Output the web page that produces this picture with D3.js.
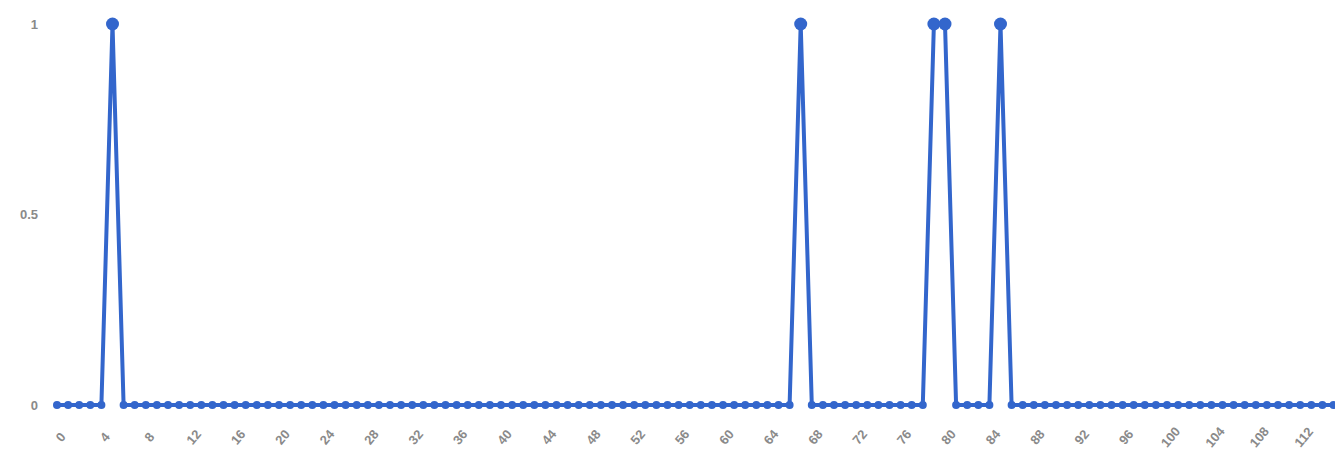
<!DOCTYPE html>
<html>
<head>
<meta charset="utf-8">
<script src="https://cdn.jsdelivr.net/npm/d3@7"></script>
<style>
  html, body { margin: 0; padding: 0; background: #ffffff; }
  svg { display: block; }
</style>
</head>
<body>
<div id="chart"></div>
<script>
// ---- Data ----
const pointCount = 116;                 // x indices 0..115
const peakIndices = [5, 67, 79, 80, 85]; // indices where value = 1
const xValues = d3.range(pointCount);
const yValues = xValues.map(i => peakIndices.includes(i) ? 1 : 0);
const xTickValues = d3.range(0, 113, 4);   // 0,4,...,112
const yTickValues = [0, 0.5, 1];
const yTickLabels = ["0", "0.5", "1"];

// ---- Layout ----
const width = 1335, height = 464;
const svg = d3.select("#chart").append("svg")
  .attr("width", width).attr("height", height);

const x = d3.scaleLinear().domain([0, 115]).range([57, 1333.5]);
const y = d3.scaleLinear().domain([0, 1]).range([405, 24]);

const lineColor = "#3366cc";
const labelColor = "#8a8a8a";

// Y axis labels
const yAxis = d3.axisLeft(y).tickValues(yTickValues)
  .tickFormat((d, i) => yTickLabels[i]).tickSize(0).tickPadding(0);
const gy = svg.append("g").attr("transform", "translate(38,0)").call(yAxis);
gy.select(".domain").remove();
gy.selectAll("text")
  .attr("fill", labelColor)
  .style("font-family", "Arial, 'Liberation Sans', sans-serif")
  .style("font-size", "13px")
  .style("font-weight", "bold");

// X axis labels (slanted)
const xAxis = d3.axisBottom(x).tickValues(xTickValues).tickSize(0).tickPadding(0)
  .tickFormat(d3.format("d"));
const gx = svg.append("g").call(xAxis);
gx.select(".domain").remove();
gx.selectAll(".tick text")
  .attr("fill", labelColor)
  .attr("x", 0).attr("y", 0).attr("dy", "0.35em")
  .attr("text-anchor", "middle")
  .attr("transform", "translate(3,437) rotate(-50)")
  .style("font-family", "Arial, 'Liberation Sans', sans-serif")
  .style("font-size", "13px")
  .style("font-weight", "bold");

// Line
const data = xValues.map((v, i) => ({ x: v, y: yValues[i] }));
const line = d3.line().x(d => x(d.x)).y(d => y(d.y));
svg.append("path")
  .datum(data)
  .attr("d", line)
  .attr("fill", "none")
  .attr("stroke", lineColor)
  .attr("stroke-width", 4)
  .attr("stroke-linejoin", "round");

// Markers
svg.append("g").selectAll("circle")
  .data(data)
  .join("circle")
  .attr("cx", d => x(d.x))
  .attr("cy", d => y(d.y))
  .attr("r", d => d.y === 1 ? 6.5 : 4)
  .attr("fill", lineColor);
</script>
</body>
</html>
